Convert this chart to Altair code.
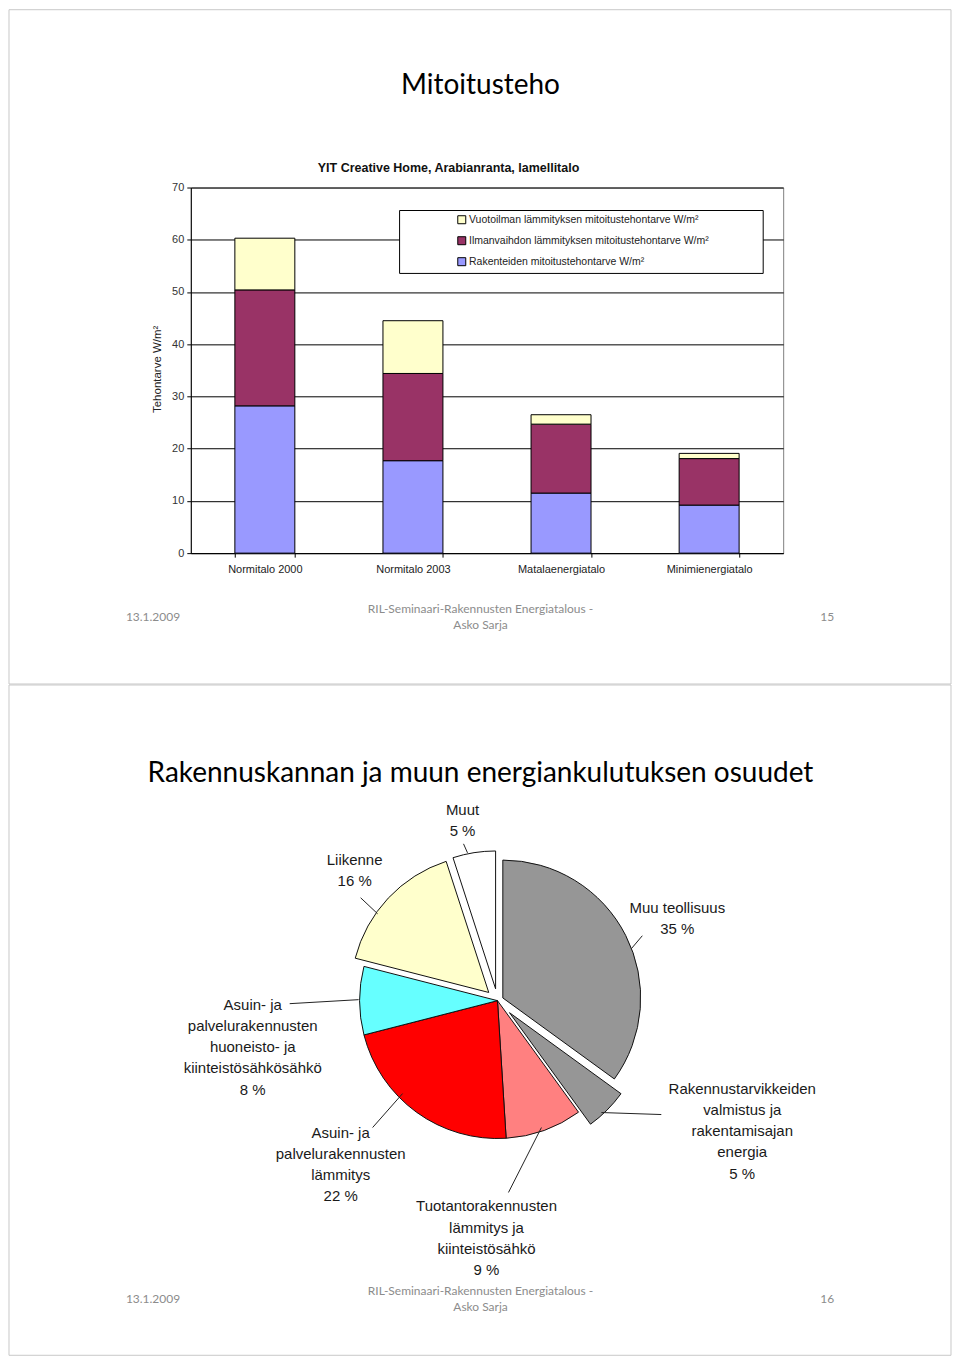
import math
import altair as alt
import pandas as pd

# ---------------- data: top slide (stacked bars) ----------------
bar_categories = ["Normitalo 2000", "Normitalo 2003", "Matalaenergiatalo", "Minimienergiatalo"]
series_names = [
    "Vuotoilman lämmityksen mitoitustehontarve W/m²",
    "Ilmanvaihdon lämmityksen mitoitustehontarve W/m²",
    "Rakenteiden mitoitustehontarve W/m²",
]
vuotoilma = [9.9, 10.1, 1.8, 1.0]
ilmanvaihto = [22.2, 16.7, 13.2, 8.9]
rakenteet = [28.2, 17.7, 11.5, 9.2]
series_colors = ["#FFFFCC", "#993366", "#9999FF"]
y_ticks = [0, 10, 20, 30, 40, 50, 60, 70]

# ---------------- data: bottom slide (pie) ----------------
pie_categories = [
    "Muu teollisuus",
    "Rakennustarvikkeiden valmistus ja rakentamisajan energia",
    "Tuotantorakennusten lämmitys ja kiinteistösähkö",
    "Asuin- ja palvelurakennusten lämmitys",
    "Asuin- ja palvelurakennusten huoneisto- ja kiinteistösähkösähkö",
    "Liikenne",
    "Muut",
]
pie_values = [35, 5, 9, 22, 8, 16, 5]
pie_labels = [
    "Muu teollisuus|35 %",
    "Rakennustarvikkeiden|valmistus ja|rakentamisajan|energia|5 %",
    "Tuotantorakennusten|lämmitys ja|kiinteistösähkö|9 %",
    "Asuin- ja|palvelurakennusten|lämmitys|22 %",
    "Asuin- ja|palvelurakennusten|huoneisto- ja|kiinteistösähkösähkö|8 %",
    "Liikenne|16 %",
    "Muut|5 %",
]
pie_colors = ["#969696", "#969696", "#FF8080", "#FF0000", "#66FFFF", "#FFFFCC", "#FFFFFF"]

# ---------------- layout (pixels, relative to pie centre, y down) ----------------
pie_explode = [6, 17, 0, 0, 0, 12, 12]
label_top_dx = [180, 245, -11, -157, -245, -143, -35]
label_top_dy = [-100, 81, 199, 125, -3, -148, -198]
lead_x1 = [134, 104, 44, -95, -139, -120, -30]
lead_y1 = [-52, 112, 127, 93, -1, -87, -148]
lead_x2 = [145, 164, 11, -125, -208, -137, -34]
lead_y2 = [-65, 114, 192, 127, 3, -103, -157]

SANS = "Liberation Sans, Arial, sans-serif"
NARROW = "Liberation Sans Narrow, Arial Narrow, Liberation Sans, sans-serif"
SLIDE = "Lato, Carlito, Calibri, sans-serif"
FOOT = "#8c8c8c"

one = pd.DataFrame({"k": [0]})


def txt(text, x, y, **kw):
    return alt.Chart(one).mark_text(**kw).encode(
        x=alt.value(x), y=alt.value(y), text=alt.value(text)
    )


def frame(x1, y1, x2, y2):
    return alt.Chart(one).mark_rect(filled=False, stroke="#c8c8c8", strokeWidth=1).encode(
        x=alt.value(x1), x2=alt.value(x2), y=alt.value(y1), y2=alt.value(y2)
    )


# ---------------- top slide ----------------
rows = []
for i, c in enumerate(bar_categories):
    for s, vals, o in [(series_names[2], rakenteet, 0), (series_names[1], ilmanvaihto, 1), (series_names[0], vuotoilma, 2)]:
        rows.append({"cat": c, "series": s, "val": vals[i], "ord": o})
bar_df = pd.DataFrame(rows)

bars = alt.Chart(bar_df).mark_bar(stroke="black", strokeWidth=1).encode(
    x=alt.X(
        "cat:N",
        sort=bar_categories,
        scale=alt.Scale(paddingInner=0.595, paddingOuter=0.2975),
        axis=alt.Axis(
            labelAngle=0, title=None, tickBand="extent", tickSize=4, tickColor="black",
            domainColor="black", labelFont=SANS, labelFontSize=11, labelColor="#222222",
            labelPadding=6, grid=False,
        ),
    ),
    y=alt.Y(
        "val:Q",
        stack="zero",
        scale=alt.Scale(domain=[0, 70], nice=False),
        axis=alt.Axis(
            values=y_ticks, grid=True, gridColor="black", gridWidth=1, domainColor="black",
            tickColor="black", tickSize=4, labelPadding=3, labelFont=SANS, labelFontSize=11,
            labelColor="#333333", title=None,
        ),
    ),
    color=alt.Color(
        "series:N",
        scale=alt.Scale(domain=series_names, range=series_colors),
        legend=alt.Legend(
            orient="none", legendX=266, legendY=27, title=None, symbolType="square",
            symbolSize=64, symbolStrokeColor="black", symbolStrokeWidth=1, labelFontSize=10.5,
            labelFont=SANS, labelColor="#222222", rowPadding=8, padding=0, labelOffset=2,
            labelLimit=400,
        ),
    ),
    order=alt.Order("ord:Q", sort="ascending"),
)

legend_box = alt.Chart(one).mark_rect(fill="white", stroke="black", strokeWidth=1).encode(
    x=alt.value(209), x2=alt.value(573), y=alt.value(23), y2=alt.value(86)
)

top = alt.layer(
    frame(-182, -178, 761, 497),
    bars,
    legend_box,
    txt("Mitoitusteho", 290, -102, font=SLIDE, fontSize=28, align="center", baseline="middle", color="black"),
    txt("YIT Creative Home, Arabianranta, lamellitalo", 258, -20, font=NARROW, fontSize=12.5,
        fontWeight="bold", align="center", baseline="middle", color="#111111"),
    txt("Tehontarve  W/m²", -33, 182, font=SANS, fontSize=11.5, angle=270, align="center",
        baseline="middle", color="#222222"),
    txt("13.1.2009", -65, 430, font=SLIDE, fontSize=12, align="left", baseline="middle", color=FOOT),
    txt("RIL-Seminaari-Rakennusten Energiatalous -", 290, 422, font=SLIDE, fontSize=12,
        align="center", baseline="middle", color=FOOT),
    txt("Asko Sarja", 290, 438, font=SLIDE, fontSize=12, align="center", baseline="middle", color=FOOT),
    txt("15", 637, 430, font=SLIDE, fontSize=12, align="center", baseline="middle", color=FOOT),
).properties(width=593, height=366, view=alt.ViewBackground(stroke="#808080"))

# ---------------- bottom slide ----------------
pie_df = pd.DataFrame({
    "idx": list(range(len(pie_categories))),
    "pcat": pie_categories,
    "val": pie_values,
    "label": pie_labels,
    "explode": pie_explode,
    "tx": label_top_dx,
    "ty": label_top_dy,
    "lx1": lead_x1,
    "ly1": lead_y1,
    "lx2": lead_x2,
    "ly2": lead_y2,
})

xs = alt.Scale(domain=[-307, 286], nice=False, zero=False)
ys = alt.Scale(domain=[285, -200], nice=False, zero=False)

pie_base = (
    alt.Chart(pie_df)
    .transform_window(cum="sum(val)", sort=[alt.SortField("idx")], frame=[None, 0])
    .transform_calculate(start="datum.cum - datum.val")
    .transform_calculate(mid="(datum.cum - datum.val / 2) / 100 * 2 * PI")
    .transform_calculate(cx="datum.explode * sin(datum.mid)")
    .transform_calculate(cy="-datum.explode * cos(datum.mid)")
    .transform_calculate(lines="split(datum.label, '|')")
)

arcs = pie_base.mark_arc(radius=138, stroke="#111111", strokeWidth=1).encode(
    x=alt.X("cx:Q", scale=xs, axis=None),
    y=alt.Y("cy:Q", scale=ys, axis=None),
    theta=alt.Theta("start:Q", scale=alt.Scale(domain=[0, 100], range=[0, 2 * math.pi]), stack=None),
    theta2="cum:Q",
    fill=alt.Fill("pcat:N", scale=alt.Scale(domain=pie_categories, range=pie_colors), legend=None),
)

leaders = pie_base.mark_rule(color="#222222", strokeWidth=1).encode(
    x=alt.X("lx1:Q", scale=xs, axis=None),
    y=alt.Y("ly1:Q", scale=ys, axis=None),
    x2="lx2:Q",
    y2="ly2:Q",
)

labels = pie_base.mark_text(
    font=SANS, fontSize=15, lineHeight=21.3, align="center", baseline="top", color="#1a1a1a"
).encode(
    x=alt.X("tx:Q", scale=xs, axis=None),
    y=alt.Y("ty:Q", scale=ys, axis=None),
    text="lines:N",
)

bottom = alt.layer(
    frame(-182, -116, 761, 555),
    arcs,
    leaders,
    labels,
    txt("Rakennuskannan ja muun energiankulutuksen osuudet", 290, -27, font=SLIDE, fontSize=28,
        align="center", baseline="middle", color="black"),
    txt("13.1.2009", -65, 499, font=SLIDE, fontSize=12, align="left", baseline="middle", color=FOOT),
    txt("RIL-Seminaari-Rakennusten Energiatalous -", 290, 491, font=SLIDE, fontSize=12,
        align="center", baseline="middle", color=FOOT),
    txt("Asko Sarja", 290, 507, font=SLIDE, fontSize=12, align="center", baseline="middle", color=FOOT),
    txt("16", 637, 499, font=SLIDE, fontSize=12, align="center", baseline="middle", color=FOOT),
).properties(width=593, height=485, view=alt.ViewBackground(stroke="transparent"))

chart = alt.vconcat(top, bottom, spacing=248, bounds="flush", padding=0).resolve_scale(
    color="independent", fill="independent", x="independent", y="independent"
)

chart.save("out.html", embed_options={"renderer": "svg", "actions": False})
